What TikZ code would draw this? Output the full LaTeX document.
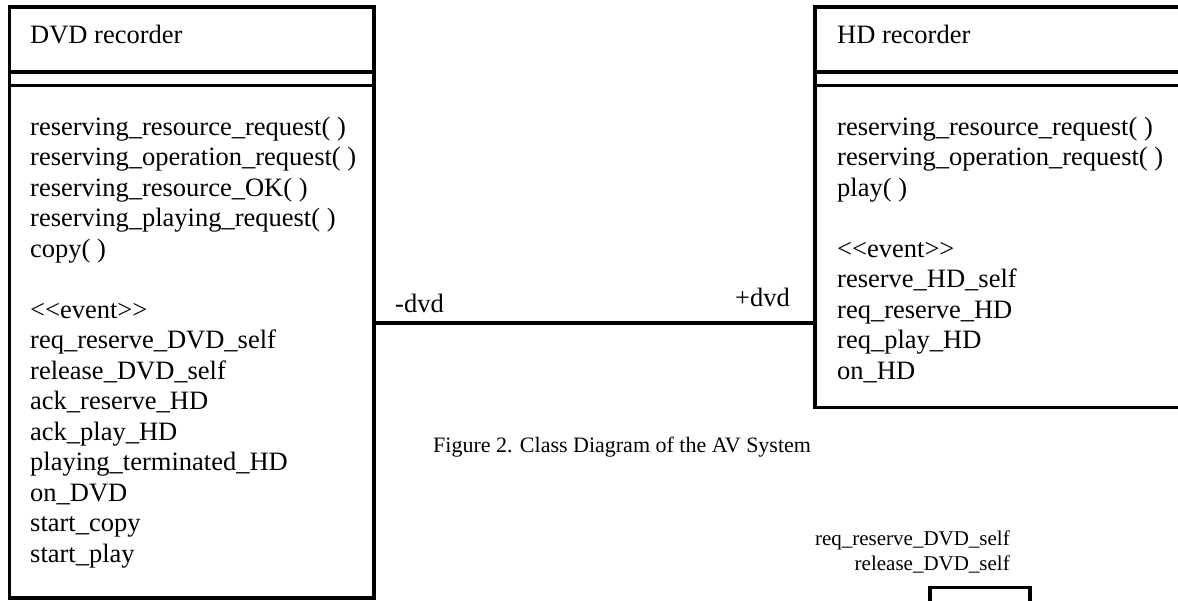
\documentclass[tikz,border=0pt]{standalone}
\usepackage{fontspec}
\setmainfont{Liberation Serif}
\begin{document}
\begin{tikzpicture}[x=1pt,y=-1pt,
  classbox/.style={draw=black, line width=3.5pt, rectangle, outer sep=0pt,
    inner sep=0pt, anchor=north west},
  sepline/.style={line width=3.5pt},
  assoc/.style={line width=3.5pt},
  member/.style={anchor=base west, inner sep=0pt, font=\fontsize{26.5}{30.5}\selectfont},
  rolelbl/.style={anchor=base west, inner sep=0pt, font=\fontsize{26.5}{30.5}\selectfont},
  caption/.style={anchor=base west, inner sep=0pt, font=\fontsize{22}{25}\selectfont},
  evlbl/.style={anchor=base east, inner sep=0pt, font=\fontsize{21}{25}\selectfont}]
\clip (0,0) rectangle (1178,600);

% class boxes
\node[classbox, minimum width=364.5pt, minimum height=591pt] (dvd) at (9.5,7) {};
\node[classbox, minimum width=400pt, minimum height=400.5pt] (hd) at (815,7) {};
\node[classbox, minimum width=100pt, minimum height=60pt] (state) at (930,587.5) {};

% compartment separators
\draw[sepline] (dvd.west |- 0,72) -- (dvd.east |- 0,72);
\draw[sepline] (dvd.west |- 0,85.5) -- (dvd.east |- 0,85.5);
\draw[sepline] (hd.west |- 0,72) -- (hd.east |- 0,72);
\draw[sepline] (hd.west |- 0,85.5) -- (hd.east |- 0,85.5);

% association
\coordinate (aL) at (dvd.east |- 0,323);
\coordinate (aR) at (hd.west |- 0,323);
\draw[assoc] (aL) -- (aR);
\node[rolelbl] (roleL) at (395,312) {-dvd};
\node[rolelbl] (roleR) at (735,306) {+dvd};

% DVD recorder
\node[member] (dvdname) at (30,43) {DVD recorder};
\foreach [count=\i from 0] \t in {
  reserving\_resource\_request( ),
  reserving\_operation\_request( ),
  reserving\_resource\_OK( ),
  reserving\_playing\_request( ),
  copy( ),
  {},
  <{}<event>{}>,
  req\_reserve\_DVD\_self,
  release\_DVD\_self,
  ack\_reserve\_HD,
  ack\_play\_HD,
  playing\_terminated\_HD,
  on\_DVD,
  start\_copy,
  start\_play}
  \node[member] (dvdm\i) at (30,135+30.5*\i) {\t};

% HD recorder
\node[member] (hdname) at (837,43) {HD recorder};
\foreach [count=\i from 0] \t in {
  reserving\_resource\_request( ),
  reserving\_operation\_request( ),
  play( ),
  {},
  <{}<event>{}>,
  reserve\_HD\_self,
  req\_reserve\_HD,
  req\_play\_HD,
  on\_HD}
  \node[member] (hdm\i) at (837,135+30.5*\i) {\t};

% caption
\node[caption] (cap) at (433,452) {Figure 2. Class Diagram of the AV System};

% event labels above the state box
\node[evlbl] (ev1) at (1010,545) {req\_reserve\_DVD\_self};
\node[evlbl] (ev2) at (1010,570) {release\_DVD\_self};
\end{tikzpicture}
\end{document}
